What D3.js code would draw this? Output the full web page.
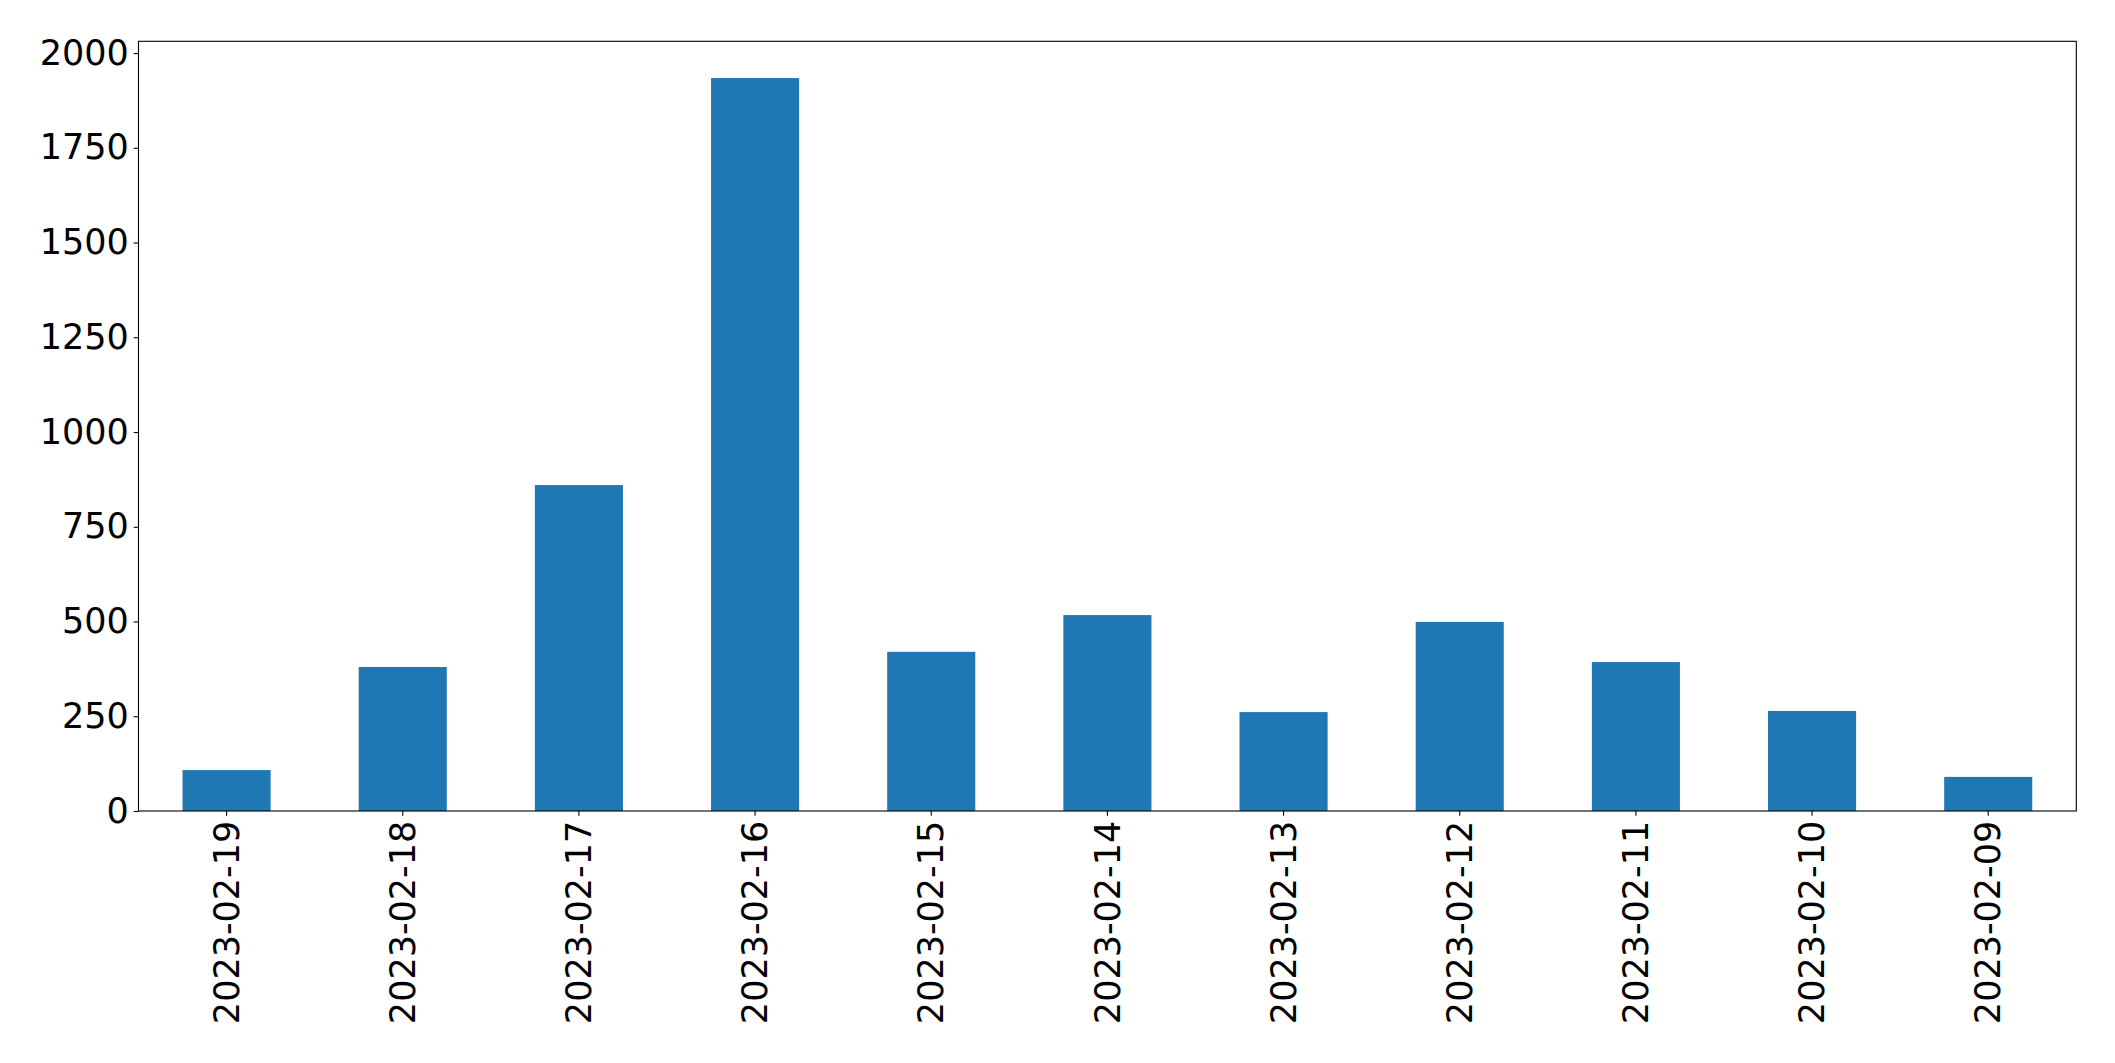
<!DOCTYPE html>
<html>
<head>
<meta charset="utf-8">
<script src="https://cdn.jsdelivr.net/npm/d3@7"></script>
<style>
  html, body { margin: 0; padding: 0; background: #fff; }
  svg { display: block; }
</style>
</head>
<body>
<svg id="chart" width="2115" height="1063"></svg>
<script>
const categories = ["2023-02-19","2023-02-18","2023-02-17","2023-02-16","2023-02-15","2023-02-14","2023-02-13","2023-02-12","2023-02-11","2023-02-10","2023-02-09"];
const values = [108, 380, 860, 1934, 420, 517, 261, 499, 393, 264, 90];
const yTicks = [0, 250, 500, 750, 1000, 1250, 1500, 1750, 2000];

(function () {
const svg = d3.select("#chart");
const mLeft = 138.5, mRight = 2076.3, mTop = 41.3, mBottom = 811;
const fontFamily = "'DejaVu Sans', sans-serif";
const fontSize = 35;
const tickLen = 4.86, tickPad = 4.86;

const x = d3.scaleBand().domain(categories).range([mLeft, mRight]).paddingInner(0.5).paddingOuter(0.25);
const y = d3.scaleLinear().domain([0, 2031]).range([mBottom, mTop]);

// bars
svg.append("g").selectAll("rect").data(categories).join("rect")
  .attr("x", d => x(d))
  .attr("width", x.bandwidth())
  .attr("y", (d, i) => y(values[i]))
  .attr("height", (d, i) => y(0) - y(values[i]))
  .attr("fill", "#1f77b4");

// y axis
const yAxis = d3.axisLeft(y).tickValues(yTicks).tickFormat(d3.format("d"))
  .tickSize(tickLen).tickPadding(tickPad).tickSizeOuter(0);
const gy = svg.append("g").attr("transform", `translate(${mLeft},0)`).call(yAxis);
gy.select(".domain").remove();
gy.selectAll("line").attr("stroke", "#000").attr("stroke-width", 1.1);
gy.selectAll("text").attr("font-family", fontFamily).attr("font-size", fontSize).attr("fill", "#000");

// x axis
const xAxis = d3.axisBottom(x).tickSize(tickLen).tickPadding(tickPad).tickSizeOuter(0);
const gx = svg.append("g").attr("transform", `translate(0,${mBottom})`).call(xAxis);
gx.select(".domain").remove();
gx.selectAll("line").attr("stroke", "#000").attr("stroke-width", 1.1);
gx.selectAll("text")
  .attr("font-family", fontFamily).attr("font-size", fontSize).attr("fill", "#000")
  .attr("text-anchor", "end")
  .attr("y", 0).attr("x", 0)
  .attr("dy", "0.35em")
  .attr("transform", `translate(0,${tickLen + tickPad}) rotate(-90)`);

// frame
svg.append("rect")
  .attr("x", mLeft).attr("y", mTop)
  .attr("width", mRight - mLeft).attr("height", mBottom - mTop)
  .attr("fill", "none").attr("stroke", "#000").attr("stroke-width", 1.1);
})();
</script>
</body>
</html>
